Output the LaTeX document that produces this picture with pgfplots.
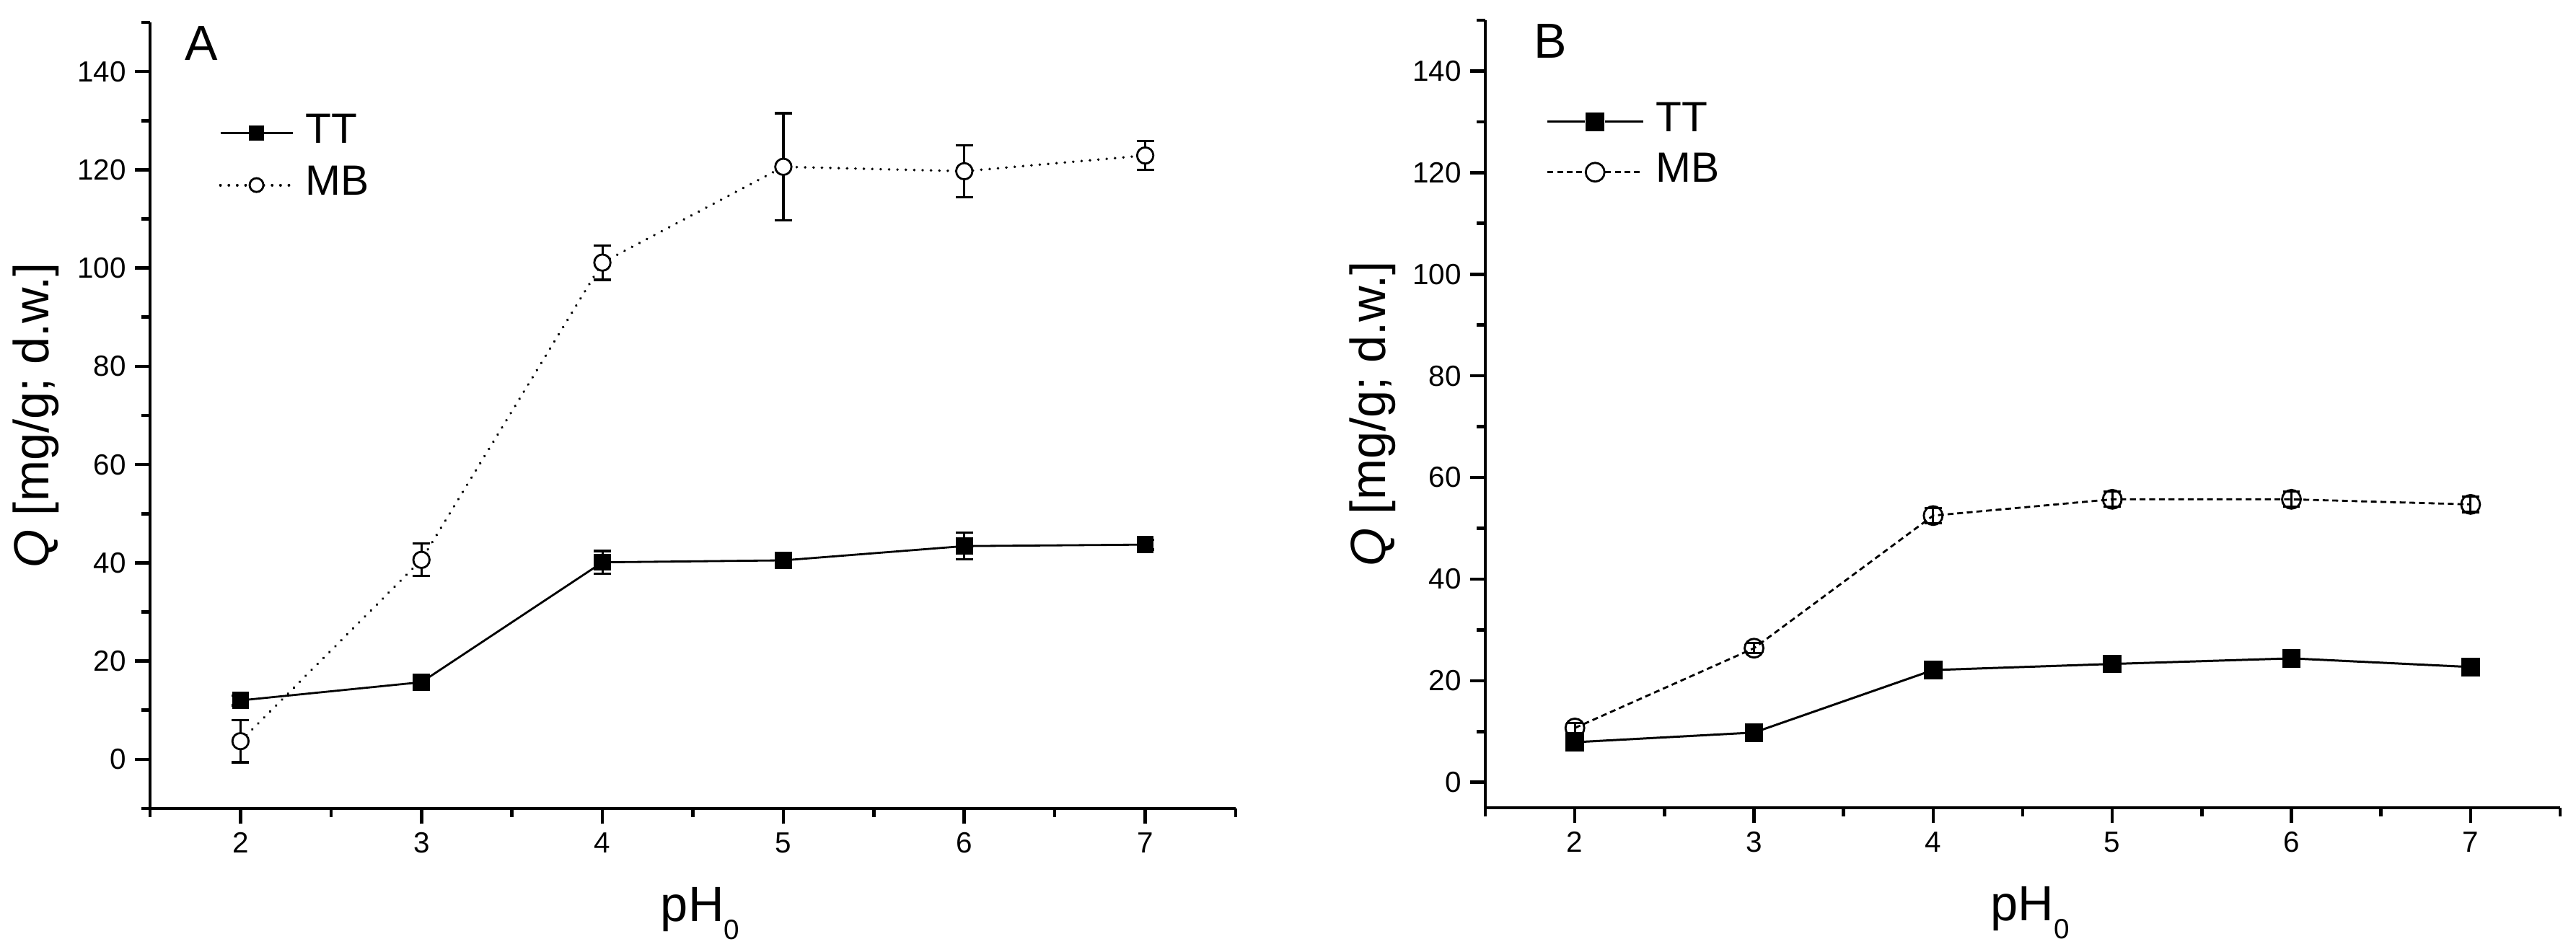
\documentclass[border=0pt]{standalone}
\usepackage{fontspec}
\setmainfont{Liberation Sans}
\usepackage{pgfplots}
\pgfplotsset{compat=1.18}

\pgfplotsset{
  panel/.style={
    scale only axis, axis lines*=left, tick align=outside,
    xmin=1.5, xmax=7.5, ymax=150,
    xtick={2,...,7}, minor xtick={1.5,2.5,...,7.5},
    ytick={0,20,...,140},
    major tick length=0.21cm, minor tick length=0.12cm,
    axis line style={line width=1.3pt},
    every tick/.append style={line width=1.3pt, black},
    tick label style={font=\fontsize{11.5}{13}\selectfont},
    /pgf/number format/assume math mode=true,
    label style={font=\fontsize{19.5}{22}\selectfont},
    xlabel={pH\raisebox{-0.25cm}{\fontsize{11}{11}\selectfont 0}},
    ylabel={\textit{Q} [mg/g; d.w.]},
    xlabel style={at={(axis description cs:0.5,0)}, anchor=base, yshift=-1.57cm, xshift=0.1cm},
    ylabel style={at={(axis description cs:-0.105,0.5)}, anchor=center},
    legend style={draw=none, fill=none, font=\fontsize{16.7}{19}\selectfont,
      legend cell align=left, inner sep=0pt, column sep=0.16cm,
      nodes={inner sep=0pt, text height=0.5cm, text depth=0.22cm}},
  },
  legA/.style={legend image code/.code={
      \draw[##1] (0cm,0cm) -- (0.40cm,0cm);
      \draw[##1] (0.60cm,0cm) -- (1.0cm,0cm);
      \draw[##1, only marks, every mark/.append style={scale=0.85}] plot coordinates {(0.5cm,0cm)};}},
  legB/.style={legend image code/.code={
      \draw[##1] (0cm,0cm) -- (0.52cm,0cm);
      \draw[##1] (0.80cm,0cm) -- (1.33cm,0cm);
      \draw[##1, only marks] plot coordinates {(0.66cm,0cm)};}},
}

\begin{document}
\begin{tikzpicture}
\useasboundingbox (0,0) rectangle (35.71cm,13.20cm);

% ---------- Panel A ----------
\begin{axis}[panel, legA,
  at={(2.08cm,1.99cm)}, anchor=south west,
  width=15.05cm, height=10.90cm,
  ymin=-10, minor ytick={-10,10,...,150},
  legend style={at={(axis description cs:0.0631,0.826)}, anchor=west},
]
\addplot[black, line width=0.8pt, mark=square*, mark size=3.1pt,
  mark options={solid, fill=black, line width=0.5pt},
  error bars/.cd, y dir=both, y explicit,
  error bar style={line width=0.9pt, solid},
  error mark options={rotate=90, mark size=3.4pt, line width=0.9pt, solid}]
coordinates {
 (2,12.0) +- (0,1.0)
 (3,15.7) +- (0,1.0)
 (4,40.1) +- (0,2.3)
 (5,40.5) +- (0,1.0)
 (6,43.4) +- (0,2.7)
 (7,43.7) +- (0,1.0)
};
\addlegendentry{TT}
\addplot[black, line width=1.1pt, line cap=round, dash pattern=on 0.01pt off 3.3pt,
  mark=*, mark size=3.2pt,
  mark options={solid, fill=white, line width=0.8pt},
  error bars/.cd, y dir=both, y explicit,
  error bar style={line width=0.9pt, solid, line cap=butt},
  error mark options={rotate=90, mark size=3.4pt, line width=0.9pt, solid}]
coordinates {
 (2,3.7)   +- (0,4.3)
 (3,40.6)  +- (0,3.3)
 (4,101.1) +- (0,3.5)
 (5,120.6) +- (0,10.9)
 (6,119.7) +- (0,5.3)
 (7,122.9) +- (0,2.9)
};
\addlegendentry{MB}
\node[anchor=base west, inner sep=0pt, font=\fontsize{19.4}{22}\selectfont]
  at (axis description cs:0.0319,0.952) {A};
\end{axis}

% ---------- Panel B ----------
\begin{axis}[panel, legB,
  at={(20.59cm,2.00cm)}, anchor=south west,
  width=14.90cm, height=10.92cm,
  ymin=-5, minor ytick={10,30,...,150},
  legend style={at={(axis description cs:0.0564,0.839)}, anchor=west,
    nodes={inner sep=0pt, text height=0.49cm, text depth=0.21cm}},
]
\addplot[black, line width=0.85pt, mark=square*, mark size=3.4pt,
  mark options={solid, fill=black, line width=0.5pt},
  error bars/.cd, y dir=both, y explicit,
  error bar style={line width=0.9pt, solid},
  error mark options={rotate=90, mark size=3.4pt, line width=0.9pt, solid}]
coordinates {
 (2,7.9)  +- (0,1.0)
 (3,9.8)  +- (0,1.0)
 (4,22.1) +- (0,1.0)
 (5,23.3) +- (0,1.0)
 (6,24.4) +- (0,1.0)
 (7,22.7) +- (0,1.0)
};
\addlegendentry{TT}
\addplot[black, line width=0.8pt, dash pattern=on 2.3pt off 1.5pt,
  mark=o, mark size=3.7pt,
  mark options={solid, line width=0.8pt},
  error bars/.cd, y dir=both, y explicit,
  error bar style={line width=0.9pt, solid},
  error mark options={rotate=90, mark size=3.4pt, line width=0.9pt, solid}]
coordinates {
 (2,10.7) +- (0,1.0)
 (3,26.4) +- (0,1.0)
 (4,52.5) +- (0,1.5)
 (5,55.7) +- (0,1.5)
 (6,55.7) +- (0,1.5)
 (7,54.7) +- (0,1.5)
};
\addlegendentry{MB}
\node[anchor=base west, inner sep=0pt, font=\fontsize{19.4}{22}\selectfont]
  at (axis description cs:0.045,0.9515) {B};
\end{axis}
\end{tikzpicture}
\end{document}
